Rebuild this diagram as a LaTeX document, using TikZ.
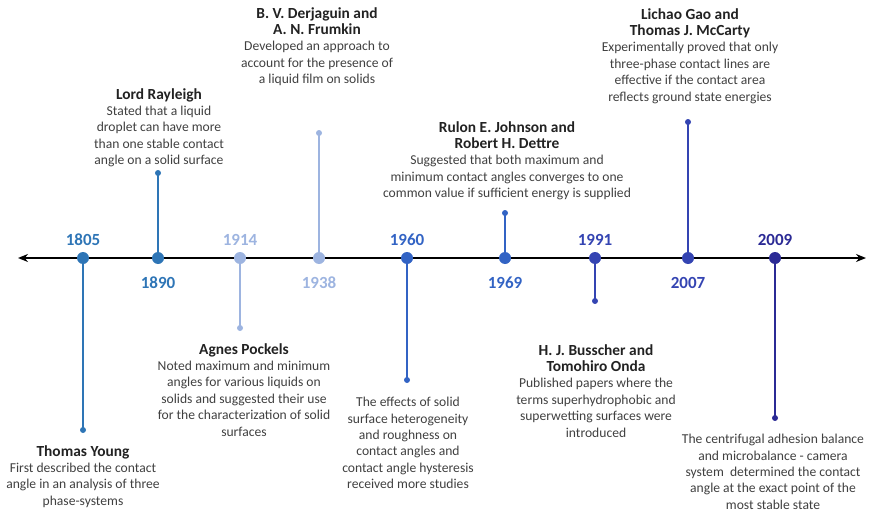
\documentclass[tikz,border=0pt]{standalone}
\usepackage{fontspec}
\setmainfont{Carlito}
\usetikzlibrary{arrows.meta}
\definecolor{cA}{HTML}{2E75B6}
\definecolor{cB}{HTML}{9DB4E0}
\definecolor{cC}{HTML}{3263C4}
\definecolor{cD}{HTML}{3444B2}
\definecolor{cE}{HTML}{2B2A95}
\definecolor{bodytxt}{HTML}{404040}
\definecolor{titletxt}{HTML}{222222}
\tikzset{
  bigdot/.style={circle,fill=#1,inner sep=0pt,minimum size=12pt},
  smalldot/.style={circle,fill=#1,inner sep=0pt,minimum size=6pt},
  stem/.style={draw=#1,line width=2pt},
  yearlbl/.style={text=#1,font=\fontsize{17}{19}\selectfont\bfseries,inner sep=0pt},
  evtext/.style={anchor=north,align=center,inner sep=0pt,text=bodytxt,font=\fontsize{13.6}{16.4}\selectfont},
}
\newcommand{\ttl}[1]{{\color{titletxt}\fontsize{15.4}{18}\selectfont\bfseries #1}}
\begin{document}
\begin{tikzpicture}[x=1pt,y=-1pt]
\useasboundingbox (0,0) rectangle (869,516);
\coordinate (L) at (18,258);
\coordinate (R) at (866,258);
\draw[line width=2.2pt,{Stealth[length=10pt,width=8pt]}-{Stealth[length=10pt,width=8pt]}] (L) -- (R);
% dots on axis
\node[bigdot=cA] (d1805) at (83,258) {};
\node[bigdot=cA] (d1890) at (158,258) {};
\node[bigdot=cB] (d1914) at (240,258) {};
\node[bigdot=cB] (d1938) at (319,258) {};
\node[bigdot=cC] (d1960) at (407,258) {};
\node[bigdot=cC] (d1969) at (505,258) {};
\node[bigdot=cD] (d1991) at (595,258) {};
\node[bigdot=cD] (d2007) at (688,258) {};
\node[bigdot=cE] (d2009) at (775,258) {};
% stem ends
\node[smalldot=cA] (e1805) at (83,430) {};
\node[smalldot=cA] (e1890) at (158,173) {};
\node[smalldot=cB] (e1914) at (240,328) {};
\node[smalldot=cB] (e1938) at (319,133) {};
\node[smalldot=cC] (e1960) at (407,380) {};
\node[smalldot=cC] (e1969) at (505,213) {};
\node[smalldot=cD] (e1991) at (595,301) {};
\node[smalldot=cD] (e2007) at (688,122) {};
\node[smalldot=cE] (e2009) at (775,418) {};
\draw[stem=cA] (d1805.center) -- (e1805.center);
\draw[stem=cA] (d1890.center) -- (e1890.center);
\draw[stem=cB] (d1914.center) -- (e1914.center);
\draw[stem=cB] (d1938.center) -- (e1938.center);
\draw[stem=cC] (d1960.center) -- (e1960.center);
\draw[stem=cC] (d1969.center) -- (e1969.center);
\draw[stem=cD] (d1991.center) -- (e1991.center);
\draw[stem=cD] (d2007.center) -- (e2007.center);
\draw[stem=cE] (d2009.center) -- (e2009.center);
% year labels
\node[yearlbl=cA] (y1805) at (83,240) {1805};
\node[yearlbl=cA] (y1890) at (158,283) {1890};
\node[yearlbl=cB] (y1914) at (240,240) {1914};
\node[yearlbl=cB] (y1938) at (319,283) {1938};
\node[yearlbl=cC] (y1960) at (407,240) {1960};
\node[yearlbl=cC] (y1969) at (505,283) {1969};
\node[yearlbl=cD] (y1991) at (595,240) {1991};
\node[yearlbl=cD] (y2007) at (688,283) {2007};
\node[yearlbl=cE] (y2009) at (775,240) {2009};
% event texts
\node[evtext] (t1805) at (83,445) {\ttl{Thomas Young}\\First described the contact\\angle in an analysis of three\\phase-systems};
\node[evtext] (t1890) at (159,88) {\ttl{Lord Rayleigh}\\Stated that a liquid\\droplet can have more\\than one stable contact\\angle on a solid surface};
\node[evtext] (t1938) at (317,7) {\ttl{B. V. Derjaguin and}\\\ttl{A. N. Frumkin}\\Developed an approach to\\account for the presence of\\a liquid film on solids};
\node[evtext] (t1914) at (244,343) {\ttl{Agnes Pockels}\\Noted maximum and minimum\\angles for various liquids on\\solids and suggested their use\\for the characterization of solid\\surfaces};
\node[evtext] (t1960) at (408,397) {The effects of solid\\surface heterogeneity\\and roughness on\\contact angles and\\contact angle hysteresis\\received more studies};
\node[evtext] (t1969) at (507,121) {\ttl{Rulon E. Johnson and}\\\ttl{Robert H. Dettre}\\Suggested that both maximum and\\minimum contact angles converges to one\\common value if sufficient energy is supplied};
\node[evtext] (t1991) at (596,344) {\ttl{H. J. Busscher and}\\\ttl{Tomohiro Onda}\\Published papers where the\\terms superhydrophobic and\\superwetting surfaces were\\introduced};
\node[evtext] (t2007) at (690,8) {\ttl{Lichao Gao and}\\\ttl{Thomas J. McCarty}\\Experimentally proved that only\\three-phase contact lines are\\effective if the contact area\\reflects ground state energies};
\node[evtext] (t2009) at (773,434) {The centrifugal adhesion balance\\and microbalance - camera\\system\ \ determined the contact\\angle at the exact point of the\\most stable state};
\end{tikzpicture}
\end{document}
